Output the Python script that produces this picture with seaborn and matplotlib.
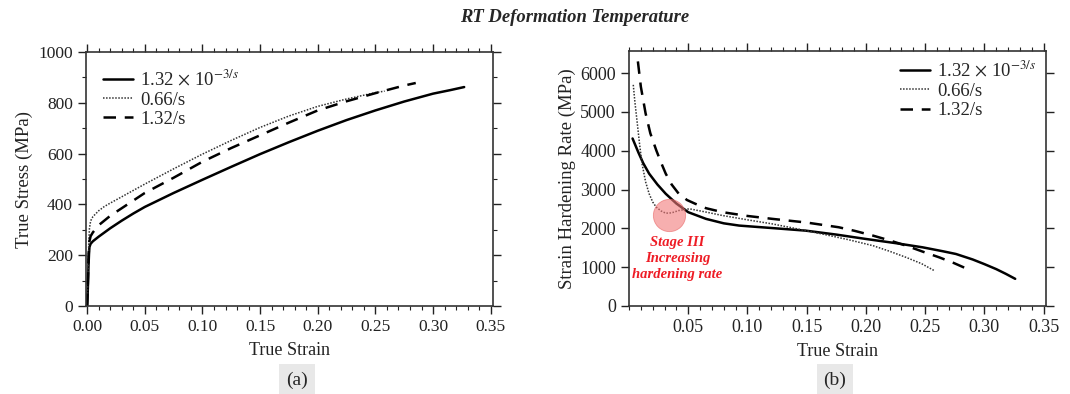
import numpy as np
import pandas as pd
import matplotlib
matplotlib.use("Agg")
import matplotlib.pyplot as plt
from matplotlib.ticker import MultipleLocator, FormatStrFormatter
import seaborn as sns

# ---- (a) true stress vs true strain ----
strain_slow = [0.0, 0.0004, 0.0008, 0.0012, 0.0016, 0.002, 0.003, 0.005, 0.01, 0.02, 0.03, 0.04,
               0.05, 0.075, 0.10, 0.125, 0.15, 0.175, 0.20, 0.225, 0.25, 0.275, 0.30, 0.315, 0.327]
stress_slow = [0, 40, 100, 160, 205, 232, 245, 255, 273, 306, 336, 364,
               390, 445, 497, 548, 598, 645, 690, 732, 770, 805, 836, 850, 862]

strain_mid = [0.0, 0.0005, 0.001, 0.0015, 0.002, 0.003, 0.005, 0.01, 0.015, 0.02, 0.03, 0.04,
              0.05, 0.075, 0.10, 0.125, 0.15, 0.175, 0.20, 0.225, 0.25, 0.258]
stress_mid = [0, 80, 180, 260, 305, 335, 352, 375, 392, 405, 430, 455,
              480, 540, 598, 652, 703, 748, 786, 815, 840, 846]

strain_fast = [0.0, 0.0005, 0.001, 0.0015, 0.002, 0.003, 0.005, 0.01, 0.02, 0.03, 0.04,
               0.05, 0.075, 0.10, 0.125, 0.15, 0.175, 0.20, 0.225, 0.25, 0.275, 0.285]
stress_fast = [0, 70, 160, 225, 255, 275, 290, 318, 355, 385, 415,
               445, 505, 568, 622, 672, 722, 770, 806, 838, 868, 878]

# ---- (b) strain hardening rate vs true strain ----
hstrain_slow = [0.003, 0.008, 0.012, 0.017, 0.024, 0.031, 0.04, 0.05, 0.065, 0.08, 0.093, 0.12,
                0.149, 0.175, 0.20, 0.225, 0.248, 0.265, 0.276, 0.29, 0.30, 0.31, 0.318, 0.326]
hrate_slow = [4316, 3950, 3680, 3410, 3130, 2892, 2640, 2417, 2245, 2130, 2072, 2010,
              1942, 1840, 1727, 1620, 1511, 1410, 1340, 1200, 1079, 950, 830, 700]

hstrain_mid = [0.0036, 0.005, 0.007, 0.009, 0.011, 0.014, 0.017, 0.020, 0.023, 0.027, 0.031,
               0.036, 0.042, 0.051, 0.065, 0.079, 0.10, 0.121, 0.14, 0.163, 0.185, 0.206,
               0.22, 0.234, 0.247, 0.258]
hrate_mid = [5698, 5250, 4705, 4150, 3669, 3200, 2892, 2680, 2547, 2450, 2391,
             2400, 2460, 2504, 2420, 2331, 2220, 2115, 2000, 1856, 1710, 1554,
             1410, 1252, 1090, 906]

hstrain_fast = [0.0075, 0.010, 0.014, 0.018, 0.023, 0.027, 0.031, 0.036, 0.042, 0.049, 0.056,
                0.065, 0.079, 0.10, 0.121, 0.15, 0.177, 0.19, 0.206, 0.22, 0.234, 0.248,
                0.262, 0.274, 0.284]
hrate_fast = [6302, 5650, 4964, 4450, 4014, 3700, 3410, 3130, 2892, 2730, 2633,
              2520, 2417, 2320, 2245, 2150, 2029, 1940, 1813, 1690, 1554, 1400,
              1252, 1110, 976]

labels = [r'1.32 $\times$ 10$^{-3/s}$', '0.66/s', '1.32/s']
stage_center = (0.034, 2350)
stage_text = 'Stage III\nIncreasing\nhardening rate'
stage_text_pos = (0.041, 1220)

sns.set_theme(style='ticks')
plt.rcParams['font.family'] = ['Liberation Serif', 'DejaVu Serif']
plt.rcParams['mathtext.fontset'] = 'stix'

styles = {labels[0]: dict(ls='-', lw=1.8, color='black'),
          labels[1]: dict(ls=(0, (1, 1)), lw=1.1, color='#333333'),
          labels[2]: dict(ls=(0, (5, 3.5)), lw=1.8, color='black')}

fig = plt.figure(figsize=(10.7, 3.94), dpi=100)
ax1 = fig.add_axes([86 / 1070, 88 / 394, 407 / 1070, 254 / 394])
ax2 = fig.add_axes([629 / 1070, 88 / 394, 417 / 1070, 255 / 394])

def draw(ax, xs, ys):
    for x, y, lab in zip(xs, ys, labels):
        df = pd.DataFrame({'x': x, 'y': y})
        st = styles[lab]
        sns.lineplot(data=df, x='x', y='y', ax=ax, color=st['color'], lw=st['lw'],
                     linestyle=st['ls'], label=lab, estimator=None, sort=False)

draw(ax1, [strain_slow, strain_mid, strain_fast], [stress_slow, stress_mid, stress_fast])
draw(ax2, [hstrain_slow, hstrain_mid, hstrain_fast], [hrate_slow, hrate_mid, hrate_fast])

ax2.scatter([stage_center[0]], [stage_center[1]], s=540, color='#f27a7a', alpha=0.6,
            edgecolors='#e86060', linewidths=0.6, zorder=3)
ax2.text(stage_text_pos[0], stage_text_pos[1], stage_text, color='#ee1c25', fontsize=10.5,
         fontweight='bold', fontstyle='italic', ha='center', va='center', linespacing=1.3)

for ax, tsize in ((ax1, 12.5), (ax2, 13)):
    ax.set_xlabel('True Strain', fontsize=13, color='#222222', labelpad=5)
    ax.tick_params(which='both', direction='out', top=True, right=True,
                   labelsize=tsize, colors='#222222')
    ax.tick_params(which='major', length=6, width=1)
    ax.tick_params(which='minor', length=3, width=0.8)
    ax.xaxis.set_minor_locator(MultipleLocator(0.01))
    ax.xaxis.set_major_formatter(FormatStrFormatter('%.2f'))
    for sp in ax.spines.values():
        sp.set_visible(True)
        sp.set_linewidth(1.2)
        sp.set_color('#333333')

ax1.set_xlim(-0.001, 0.352)
ax1.set_ylim(0, 1000)
ax1.set_xticks(np.arange(0, 0.351, 0.05))
ax1.yaxis.set_major_locator(MultipleLocator(200))
ax1.yaxis.set_minor_locator(MultipleLocator(100))
ax1.set_ylabel('True Stress (MPa)', fontsize=13.5, color='#222222')
ax1.legend(loc='upper left', frameon=False, fontsize=13.5, handlelength=1.6,
           labelspacing=0.12, borderaxespad=0.5, handletextpad=0.4)

ax2.set_xlim(0, 0.352)
ax2.set_ylim(0, 6570)
ax2.set_xticks(np.arange(0.05, 0.351, 0.05))
ax2.yaxis.set_major_locator(MultipleLocator(1000))
ax2.set_ylabel('Strain Hardening Rate (MPa)', fontsize=13.5, color='#222222', labelpad=3)
ax2.legend(loc='upper right', frameon=False, fontsize=13.5, handlelength=1.6,
           labelspacing=0.12, borderaxespad=0.1, handletextpad=0.4)

fig.text(575 / 1070, 1 - 18 / 394, 'RT Deformation Temperature', ha='center', va='center',
         fontsize=13.4, fontweight='bold', fontstyle='italic')
for xpos, tag in [(297 / 1070, '(a)'), (835 / 1070, '(b)')]:
    fig.text(xpos, 1 - 380 / 394, tag, ha='center', va='center', fontsize=14,
             bbox=dict(facecolor='#e8e8e8', edgecolor='none', pad=5))

fig.savefig('out.png', dpi=100, facecolor='white')
